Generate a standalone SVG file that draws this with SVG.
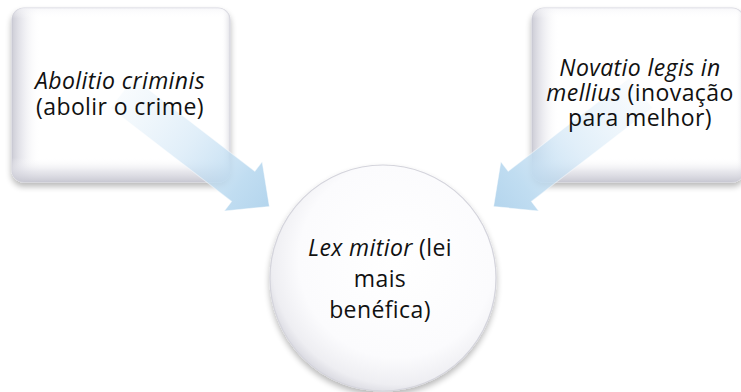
<svg xmlns="http://www.w3.org/2000/svg" width="741" height="392" viewBox="0 0 741 392">
<style>
text{font-family:"Open Sans","Noto Sans","Liberation Sans",sans-serif;font-size:23px;letter-spacing:0.4px;fill:#111;text-anchor:middle}
.it{font-style:italic}
.box{fill:#fff;stroke:#d6d6de;stroke-width:1.2}
.arr{stroke:#ffffff;stroke-opacity:0.45;stroke-width:1}
</style>
<defs>
<filter id="sh" x="-20%" y="-20%" width="140%" height="150%">
<feGaussianBlur in="SourceAlpha" stdDeviation="3"/>
<feOffset dy="4" result="b"/>
<feComponentTransfer><feFuncA type="linear" slope="0.28"/></feComponentTransfer>
<feMerge><feMergeNode/><feMergeNode in="SourceGraphic"/></feMerge>
</filter>
<linearGradient id="boxL" x1="0" y1="0" x2="1" y2="0">
<stop offset="0" stop-color="#c4c4cf" stop-opacity="0.85"/>
<stop offset="0.05" stop-color="#dedee6" stop-opacity="0.6"/>
<stop offset="0.13" stop-color="#ffffff" stop-opacity="0"/>
<stop offset="0.96" stop-color="#ffffff" stop-opacity="0"/>
<stop offset="1" stop-color="#d4d4dc" stop-opacity="0.7"/>
</linearGradient>
<linearGradient id="boxB" x1="0" y1="0" x2="0" y2="1">
<stop offset="0" stop-color="#f2f2f6" stop-opacity="0.6"/>
<stop offset="0.06" stop-color="#ffffff" stop-opacity="0"/>
<stop offset="0.86" stop-color="#ffffff" stop-opacity="0"/>
<stop offset="0.94" stop-color="#dcdce4" stop-opacity="0.7"/>
<stop offset="1" stop-color="#c6c6d0" stop-opacity="0.95"/>
</linearGradient>
<radialGradient id="circ" cx="0.56" cy="0.42" r="0.6">
<stop offset="0" stop-color="#ffffff"/>
<stop offset="0.72" stop-color="#fbfbfd"/>
<stop offset="0.92" stop-color="#eeeef2"/>
<stop offset="1" stop-color="#dadae1"/>
</radialGradient>
<linearGradient id="arrG" gradientUnits="userSpaceOnUse" x1="0" y1="0" x2="186" y2="0">
<stop offset="0" stop-color="#d2e7f6" stop-opacity="0.15"/>
<stop offset="0.45" stop-color="#c8e1f4" stop-opacity="0.55"/>
<stop offset="0.8" stop-color="#bbdaf0" stop-opacity="0.92"/>
<stop offset="1" stop-color="#b4d5ed" stop-opacity="1"/>
</linearGradient>
<path id="arrow" d="M0,-19 L153,-19 L153,-31 L186,0 L153,31 L153,19 L0,19 Z"/>
</defs>

<g id="node-abolitio">
<rect class="box" x="12" y="8" width="218" height="174" rx="12" filter="url(#sh)"/>
<rect x="12" y="8" width="218" height="174" rx="12" fill="url(#boxL)"/>
<rect x="12" y="8" width="218" height="174" rx="12" fill="url(#boxB)"/>
</g>

<g id="node-novatio">
<rect class="box" x="532" y="8" width="212" height="174" rx="12" filter="url(#sh)"/>
<rect x="532" y="8" width="212" height="174" rx="12" fill="url(#boxL)"/>
<rect x="532" y="8" width="212" height="174" rx="12" fill="url(#boxB)"/>
</g>

<g id="node-lex">
<circle cx="383" cy="278" r="113" fill="url(#circ)" stroke="#d4d4dc" stroke-width="1.2" filter="url(#sh)"/>
<text x="380" y="256"><tspan class="it">Lex mitior</tspan> (lei</text>
<text x="380" y="287">mais</text>
<text x="380" y="318">benéfica)</text>
</g>

<g id="connectors">
<use href="#arrow" class="arr" fill="url(#arrG)" transform="translate(122,93) rotate(37.6)"/>
<use href="#arrow" class="arr" fill="url(#arrG)" transform="translate(763,0) scale(-1,1) translate(122,93) rotate(37.6)"/>
</g>

<g id="label-abolitio">
<text x="120" y="89"><tspan class="it">Abolitio criminis</tspan></text>
<text x="120" y="115">(abolir o crime)</text>
</g>

<g id="label-novatio">
<text x="640" y="76"><tspan class="it">Novatio legis in</tspan></text>
<text x="640" y="101"><tspan class="it">mellius</tspan> (inovação</text>
<text x="640" y="126">para melhor)</text>
</g>
</svg>
